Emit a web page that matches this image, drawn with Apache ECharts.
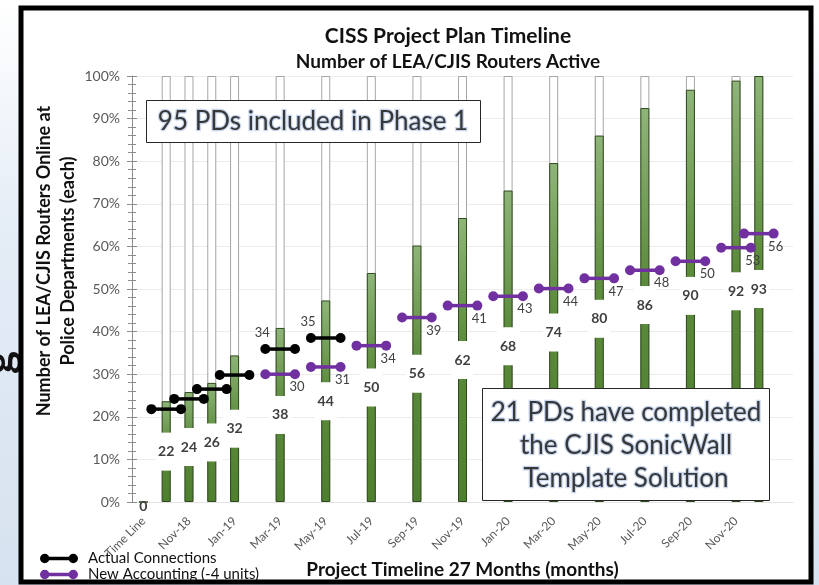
<!DOCTYPE html>
<html lang="en">
  <head>
    <meta charset="UTF-8" />
    <title>CISS Project Plan Timeline</title>
    <style>
      * {
        margin: 0;
        padding: 0;
      }
      html,
      body {
        width: 100%;
        height: 100%;
      }
      body {
        background: linear-gradient(180deg, #ffffff 0%, #e4ecf6 40%, #d6e2ef 100%);
      }
      #chart {
        width: 819px;
        height: 585px;
      }
    </style>
    <script src="https://cdn.jsdelivr.net/npm/echarts@6/dist/echarts.min.js"></script>
  </head>
  <body>
    <div id="chart"></div>
    <script>
      // months 0..28, labels every other month
      var months = [
        "Time Line", "Oct-18", "Nov-18", "Dec-18", "Jan-19", "Feb-19", "Mar-19",
        "Apr-19", "May-19", "Jun-19", "Jul-19", "Aug-19", "Sep-19", "Oct-19",
        "Nov-19", "Dec-19", "Jan-20", "Feb-20", "Mar-20", "Apr-20", "May-20",
        "Jun-20", "Jul-20", "Aug-20", "Sep-20", "Oct-20", "Nov-20", "Dec-20", "Jan-21"
      ];
      // routers active (each)
      var routers = [
        0, 22, 24, 26, 32, null, 38, null, 44, null, 50, null, 56, null, 62, null,
        68, null, 74, null, 80, null, 86, null, 90, null, 92, 93, null
      ];
      var TOTAL = 93;

      // actual connections (black)
      var actualMonth = [1, 2, 3, 4, 6, 8];
      var actualPct = [21.8, 24.2, 26.5, 29.8, 35.9, 38.5];
      var actualLabel = ["", "", "", "", "34", "35"];

      // new accounting (purple)
      var newMonth = [6, 8, 10, 12, 14, 16, 18, 20, 22, 24, 26, 27];
      var newPct = [30.0, 31.7, 36.7, 43.3, 46.1, 48.3, 50.1, 52.5, 54.4, 56.5, 59.7, 63.0];
      var newLabel = ["30", "31", "34", "39", "41", "43", "44", "47", "48", "50", "53", "56"];

      var FONT = "Lato";

      var dumbbellIcon =
        "path://M0,5a5,5 0 1,1 10,0a5,5 0 1,1 -10,0z M30,5a5,5 0 1,1 10,0a5,5 0 1,1 -10,0z M5,3.2h30v3.6h-30z";

      function dumbbell(color, labels, dx, dy, fromLeft) {
        return function (params, api) {
          var p = api.coord([api.value(0), api.value(1)]);
          var half = api.size([1, 0])[0] * 0.65;
          var x1 = p[0] - half;
          var x2 = p[0] + half;
          var lab = labels[params.dataIndex];
          var anchor = fromLeft ? x1 : x2;
          return {
            type: "group",
            children: [
              {
                type: "line",
                shape: { x1: x1, y1: p[1], x2: x2, y2: p[1] },
                style: { stroke: color, lineWidth: 3.5 },
              },
              { type: "circle", shape: { cx: x1, cy: p[1], r: 5 }, style: { fill: color } },
              { type: "circle", shape: { cx: x2, cy: p[1], r: 5 }, style: { fill: color } },
              {
                type: "text",
                x: anchor + dx,
                y: p[1] + dy,
                style: {
                  text: lab,
                  fill: "#404040",
                  font: "13px " + FONT,
                  align: "center",
                  verticalAlign: "middle",
                },
              },
            ],
          };
        };
      }

      var wordArt = {
        font: "26px " + FONT,
        fill: "#383838",
        align: "center",
        verticalAlign: "middle",
        stroke: "#c9d7ef",
        lineWidth: 2.5,
        strokeFirst: true,
        shadowColor: "#7f9fd6",
        shadowOffsetX: 1.5,
        shadowOffsetY: 1.5,
        shadowBlur: 1,
      };

      var legendText = { fontFamily: FONT, fontSize: 15, color: "#111", padding: [0, 0, 0, 5] };

      var option = {
        animation: false,
        title: {
          text: "CISS Project Plan Timeline",
          subtext: "Number of LEA/CJIS Routers Active",
          left: 443,
          top: 21,
          textAlign: "center",
          itemGap: 5,
          textStyle: { fontFamily: FONT, fontWeight: "bold", fontSize: 21, color: "#111" },
          subtextStyle: { fontFamily: FONT, fontWeight: "bold", fontSize: 19, color: "#111" },
        },
        legend: [
          {
            left: 40,
            top: 551,
            padding: 0,
            itemWidth: 38,
            itemHeight: 10,
            selectedMode: false,
            textStyle: legendText,
            data: [{ name: "Actual Connections", icon: dumbbellIcon }],
          },
          {
            left: 40,
            top: 567,
            padding: 0,
            itemWidth: 38,
            itemHeight: 10,
            selectedMode: false,
            textStyle: legendText,
            data: [{ name: "New Accounting (-4 units)", icon: dumbbellIcon }],
          },
        ],
        grid: { left: 132, right: 26, top: 76, bottom: 83, outerBoundsMode: "none", containLabel: false },
        xAxis: {
          type: "category",
          data: months,
          name: "Project Timeline 27 Months (months)",
          nameLocation: "middle",
          nameGap: 58,
          nameMoveOverlap: false,
          nameTextStyle: { fontFamily: FONT, fontWeight: "bold", fontSize: 19, color: "#111" },
          axisLine: { show: true, lineStyle: { color: "#e3e3e3" } },
          axisTick: { show: false },
          axisLabel: {
            interval: function (i) {
              return i % 2 === 0 && i < 28;
            },
            rotate: 45,
            margin: 17,
            overflow: "none",
            width: 200,
            fontFamily: FONT,
            fontSize: 12,
            color: "#595959",
          },
        },
        yAxis: [
          {
            type: "value",
            min: 0,
            max: 100,
            interval: 10,
            axisLine: { show: true, lineStyle: { color: "#8c8c8c" } },
            axisTick: { show: true, length: 5, lineStyle: { color: "#8c8c8c" } },
            minorTick: { show: true, splitNumber: 5, length: 4, lineStyle: { color: "#8c8c8c" } },
            splitLine: { lineStyle: { color: "#ececec" } },
            axisLabel: {
              formatter: "{value}%",
              fontFamily: FONT,
              fontSize: 14,
              color: "#595959",
              margin: 12,
            },
          },
          {
            type: "value",
            position: "left",
            min: 0,
            max: 100,
            interval: 10,
            axisLine: { show: false },
            axisTick: { show: true, inside: true, length: 5, lineStyle: { color: "#8c8c8c" } },
            minorTick: { show: true, splitNumber: 5, length: 4, lineStyle: { color: "#8c8c8c" } },
            splitLine: { show: false },
            axisLabel: { show: false },
          },
        ],
        graphic: [
          {
            type: "text",
            x: -22,
            y: 374,
            rotation: Math.PI / 2,
            z: -20,
            style: { text: "g", font: "bold 44px " + FONT, fill: "#111", verticalAlign: "top" },
          },
          {
            type: "rect",
            z: -10,
            shape: { x: 21, y: 8, width: 790, height: 574 },
            style: { fill: "#fff", stroke: "#000", lineWidth: 5 },
          },
          {
            type: "text",
            x: 56,
            y: 261,
            rotation: Math.PI / 2,
            style: {
              text: "Number of LEA/CJIS Routers Online at\nPolice Departments (each)",
              font: "bold 18px " + FONT,
              fill: "#111",
              align: "center",
              verticalAlign: "middle",
              lineHeight: 24,
            },
          },
          {
            type: "rect",
            z: 100,
            shape: { x: 146.5, y: 100.5, width: 334, height: 42 },
            style: { fill: "#fff", stroke: "#262626", lineWidth: 1 },
          },
          {
            type: "text",
            z: 101,
            x: 313,
            y: 122,
            style: Object.assign({ text: "95 PDs included in Phase 1" }, wordArt),
          },
          {
            type: "rect",
            z: 100,
            shape: { x: 482.5, y: 388.5, width: 287, height: 112 },
            style: { fill: "#fff", stroke: "#262626", lineWidth: 1 },
          },
          {
            type: "text",
            z: 101,
            x: 626,
            y: 446,
            style: Object.assign(
              { text: "21 PDs have completed\nthe CJIS SonicWall\nTemplate Solution", lineHeight: 33 },
              wordArt
            ),
          },
        ],
        series: [
          {
            name: "Total",
            type: "bar",
            barWidth: 9,
            silent: true,
            itemStyle: { color: "#fff", borderColor: "#a6a6a6", borderWidth: 1 },
            data: routers.map(function (v) {
              return v && v > 0 ? 100 : null;
            }),
          },
          {
            name: "Routers",
            type: "bar",
            barWidth: 9,
            barGap: "-100%",
            itemStyle: {
              borderColor: "#2f4a1e",
              borderWidth: 1,
              color: new echarts.graphic.LinearGradient(0, 0, 0, 1, [
                { offset: 0, color: "#8fb579" },
                { offset: 0.45, color: "#5a8a3a" },
                { offset: 1, color: "#4e7f2e" },
              ]),
            },
            label: {
              show: true,
              position: "inside",
              formatter: function (p) {
                return routers[p.dataIndex];
              },
              backgroundColor: "#fff",
              padding: [12, 3],
              fontFamily: FONT,
              fontWeight: "bold",
              fontSize: 14,
              color: "#404040",
            },
            data: routers.map(function (v) {
              if (v === null) return null;
              if (v === 0) {
                // the zero bar: no white box under its label
                return { value: 0, label: { padding: 0, backgroundColor: "transparent", offset: [0, 4] } };
              }
              return (v / TOTAL) * 100;
            }),
          },
          {
            name: "Actual Connections",
            type: "custom",
            z: 5,
            itemStyle: { color: "#000" },
            renderItem: dumbbell("#000", actualLabel, -3, -16, true),
            data: actualMonth.map(function (m, i) {
              return [m, actualPct[i]];
            }),
          },
          {
            name: "New Accounting (-4 units)",
            type: "custom",
            z: 5,
            itemStyle: { color: "#7030a0" },
            renderItem: dumbbell("#7030a0", newLabel, 2, 13, false),
            data: newMonth.map(function (m, i) {
              return [m, newPct[i]];
            }),
          },
        ],
      };

      var myChart = echarts.init(document.getElementById("chart"));
      myChart.setOption(option);
    </script>
  </body>
</html>
